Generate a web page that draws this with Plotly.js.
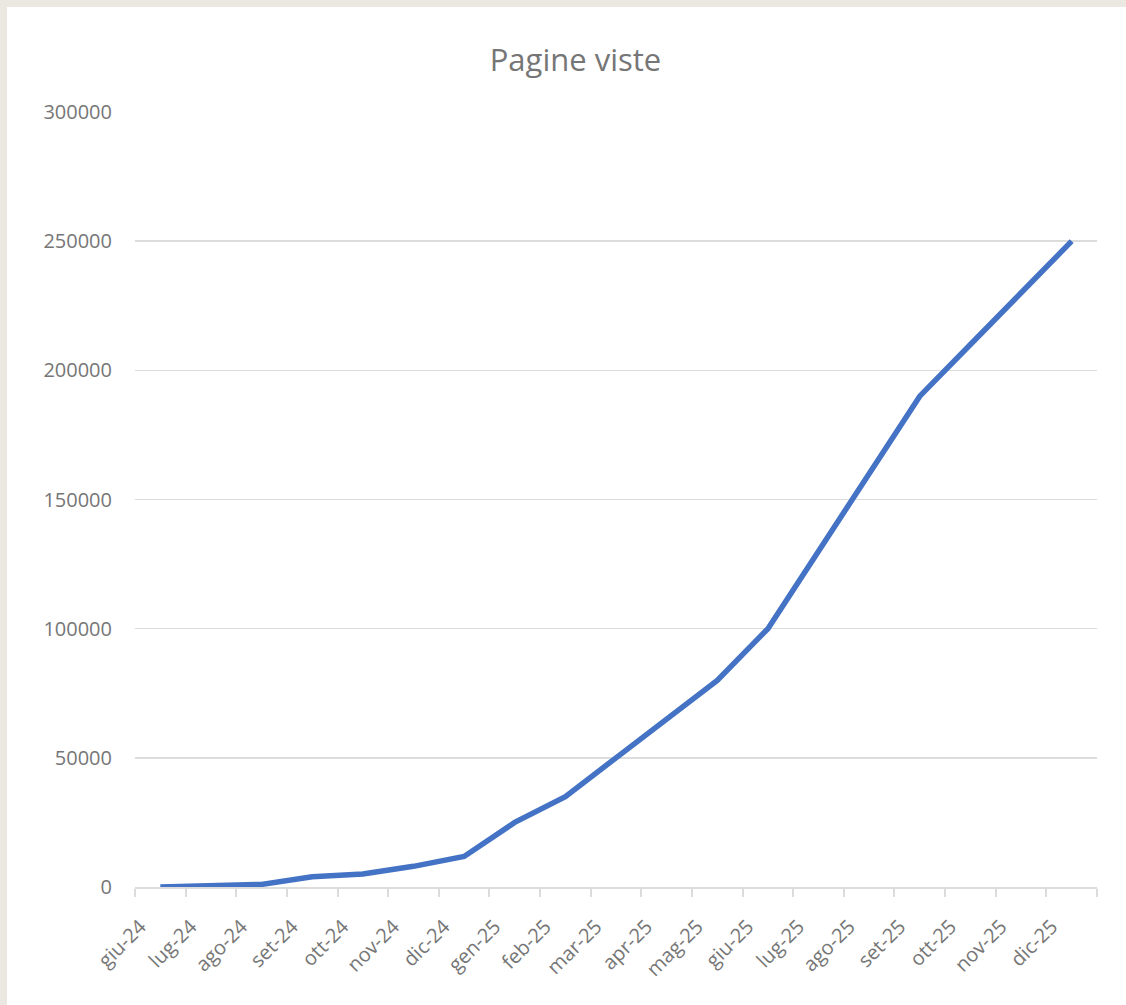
<!DOCTYPE html>
<html>
<head>
<meta charset="utf-8">
<script src="https://cdn.plot.ly/plotly-3.0.1.min.js"></script>
<style>
  html, body { margin: 0; padding: 0; background: #ebe8e1; width: 1126px; height: 1005px; overflow: hidden; }
  #chart { position: absolute; left: 7px; top: 7px; width: 1119px; height: 998px; background: #ffffff; }
</style>
</head>
<body>
<div id="chart"></div>
<script>
const months = ["giu-24","lug-24","ago-24","set-24","ott-24","nov-24","dic-24",
                "gen-25","feb-25","mar-25","apr-25","mag-25","giu-25","lug-25",
                "ago-25","set-25","ott-25","nov-25","dic-25"];
const pageViews = [0, 500, 1000, 4000, 5000, 8000, 11800,
                   25000, 35000, 50000, 65000, 80000, 100000, 130000,
                   160000, 190000, 210000, 230000, 250000];
const yTicks = [0, 50000, 100000, 150000, 200000, 250000, 300000];
const chartTitle = "Pagine viste";

const grey = "#dcdcdc";
const textGrey = "#767676";

Plotly.newPlot("chart", [{
  type: "scatter",
  mode: "lines",
  x: months,
  y: pageViews,
  line: { color: "#4472c4", width: 5.5 },
  hoverinfo: "x+y"
}], {
  width: 1119,
  height: 998,
  paper_bgcolor: "#ffffff",
  plot_bgcolor: "#ffffff",
  margin: { l: 128, r: 29, t: 105, b: 118 },
  showlegend: false,
  font: { family: "Open Sans, sans-serif", color: textGrey },
  title: {
    text: chartTitle,
    font: { family: "Open Sans, sans-serif", size: 31, color: textGrey },
    x: 0.508, xanchor: "center",
    y: 0.947, yanchor: "middle"
  },
  xaxis: {
    type: "category",
    range: [-0.5, months.length - 0.5],
    tickangle: -45,
    tickfont: { size: 20, color: textGrey },
    ticklabelstandoff: 18,
    ticklabelshift: -20,
    showline: true, linecolor: grey, linewidth: 2,
    ticks: "outside", tickson: "boundaries", ticklen: 8, tickcolor: grey, tickwidth: 2,
    showgrid: false,
    zeroline: false
  },
  yaxis: {
    range: [0, 300000],
    tickvals: yTicks,
    ticktext: yTicks.map(String),
    tickfont: { size: 20, color: textGrey },
    showgrid: true, gridcolor: grey, gridwidth: 1.5,
    showline: false, zeroline: false,
    ticks: "outside", ticklen: 18, tickcolor: "rgba(0,0,0,0)"
  }
}, { displayModeBar: false, staticPlot: true });
</script>
</body>
</html>
